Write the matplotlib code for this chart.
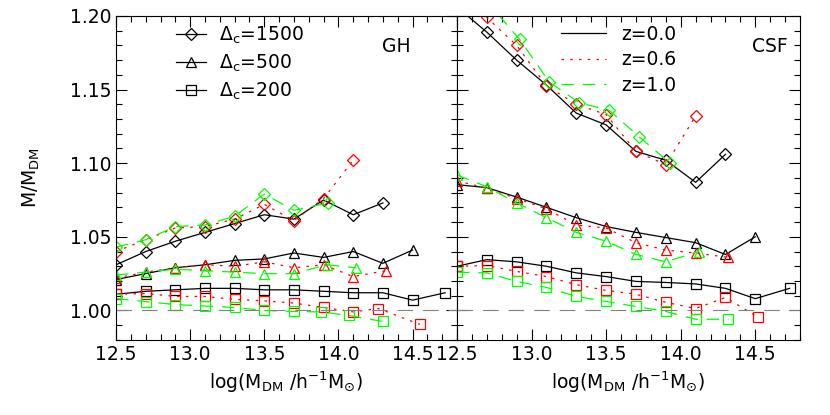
import numpy as np
import matplotlib
matplotlib.use('Agg')
import matplotlib.pyplot as plt
from matplotlib.ticker import MultipleLocator

# ---- GH panel (left) ----
gh_x_d0 = [12.5, 12.7, 12.9, 13.1, 13.3, 13.5, 13.7, 13.9, 14.1, 14.3]
gh_y_d0 = [1.031, 1.040, 1.047, 1.053, 1.059, 1.065, 1.062, 1.075, 1.065, 1.073]
gh_x_d6 = [12.5, 12.7, 12.9, 13.1, 13.3, 13.5, 13.7, 13.9, 14.1]
gh_y_d6 = [1.040, 1.048, 1.056, 1.057, 1.062, 1.072, 1.061, 1.076, 1.102]
gh_x_d10 = [12.5, 12.7, 12.9, 13.1, 13.3, 13.5, 13.7, 13.93]
gh_y_d10 = [1.043, 1.048, 1.057, 1.058, 1.064, 1.079, 1.068, 1.073]

gh_x_t0 = [12.5, 12.7, 12.9, 13.1, 13.3, 13.5, 13.7, 13.9, 14.1, 14.3, 14.5]
gh_y_t0 = [1.021, 1.025, 1.029, 1.031, 1.034, 1.035, 1.039, 1.036, 1.040, 1.032, 1.041]
gh_x_t6 = [12.5, 12.7, 12.9, 13.1, 13.3, 13.5, 13.7, 13.9, 14.1, 14.32]
gh_y_t6 = [1.022, 1.026, 1.029, 1.031, 1.030, 1.033, 1.029, 1.031, 1.023, 1.027]
gh_x_t10 = [12.5, 12.7, 12.9, 13.1, 13.3, 13.5, 13.7, 13.92, 14.12]
gh_y_t10 = [1.024, 1.026, 1.028, 1.027, 1.026, 1.025, 1.025, 1.031, 1.029]

gh_x_s0 = [12.5, 12.7, 12.9, 13.1, 13.3, 13.5, 13.7, 13.9, 14.1, 14.3, 14.5, 14.72]
gh_y_s0 = [1.011, 1.013, 1.014, 1.015, 1.015, 1.014, 1.014, 1.013, 1.012, 1.012, 1.007, 1.012]
gh_x_s6 = [12.5, 12.7, 12.9, 13.1, 13.3, 13.5, 13.7, 13.9, 14.1, 14.27, 14.55]
gh_y_s6 = [1.011, 1.0115, 1.0095, 1.0095, 1.0075, 1.0065, 1.005, 1.002, 0.999, 1.0013, 0.9905]
gh_x_s10 = [12.5, 12.7, 12.9, 13.1, 13.3, 13.5, 13.7, 13.88, 14.07, 14.3]
gh_y_s10 = [1.008, 1.006, 1.004, 1.003, 1.002, 1.000, 0.9993, 0.999, 0.9966, 0.9925]

# ---- CSF panel (right) ----
csf_x_d0 = [12.5, 12.7, 12.9, 13.1, 13.3, 13.5, 13.7, 13.9, 14.1, 14.3]
csf_y_d0 = [1.206, 1.189, 1.170, 1.153, 1.134, 1.126, 1.108, 1.102, 1.087, 1.106]
csf_x_d6 = [12.5, 12.7, 12.9, 13.1, 13.3, 13.5, 13.7, 13.9, 14.1]
csf_y_d6 = [1.218, 1.199, 1.180, 1.1525, 1.140, 1.133, 1.108, 1.099, 1.132]
csf_x_d10 = [12.5, 12.7, 12.92, 13.12, 13.32, 13.52, 13.72, 13.93]
csf_y_d10 = [1.235, 1.210, 1.184, 1.155, 1.141, 1.136, 1.118, 1.100]

csf_x_t0 = [12.5, 12.7, 12.9, 13.1, 13.3, 13.5, 13.7, 13.9, 14.1, 14.3, 14.5]
csf_y_t0 = [1.0854, 1.0834, 1.077, 1.070, 1.063, 1.057, 1.053, 1.0495, 1.046, 1.038, 1.050]
csf_x_t6 = [12.5, 12.7, 12.9, 13.1, 13.3, 13.5, 13.7, 13.9, 14.1, 14.32]
csf_y_t6 = [1.088, 1.083, 1.076, 1.069, 1.058, 1.056, 1.046, 1.041, 1.039, 1.036]
csf_x_t10 = [12.5, 12.7, 12.9, 13.1, 13.3, 13.5, 13.7, 13.9, 14.12]
csf_y_t10 = [1.092, 1.084, 1.073, 1.063, 1.053, 1.047, 1.038, 1.033, 1.040]

csf_x_s0 = [12.5, 12.7, 12.9, 13.1, 13.3, 13.5, 13.7, 13.9, 14.1, 14.3, 14.5, 14.73]
csf_y_s0 = [1.030, 1.0345, 1.033, 1.030, 1.0255, 1.023, 1.0197, 1.019, 1.018, 1.015, 1.008, 1.015]
csf_x_s6 = [12.5, 12.7, 12.9, 13.1, 13.3, 13.5, 13.7, 13.9, 14.1, 14.3, 14.52]
csf_y_s6 = [1.030, 1.0305, 1.0265, 1.023, 1.0175, 1.0136, 1.011, 1.0055, 1.0013, 1.0088, 0.9953]
csf_x_s10 = [12.5, 12.7, 12.9, 13.1, 13.3, 13.5, 13.7, 13.9, 14.1, 14.32]
csf_y_s10 = [1.026, 1.0255, 1.0197, 1.0156, 1.0095, 1.0061, 1.0027, 0.9993, 0.994, 0.994]

delta_labels = [r'$\Delta_{\rm c}$=1500', r'$\Delta_{\rm c}$=500', r'$\Delta_{\rm c}$=200']
z_labels = ['z=0.0', 'z=0.6', 'z=1.0']

plt.rcParams['font.family'] = 'DejaVu Sans'
plt.rcParams['mathtext.fontset'] = 'dejavusans'

fig = plt.figure(figsize=(8.3, 4.15), dpi=100)
ax1 = fig.add_axes([0.1398, 0.181, 0.4108, 0.7806])
ax2 = fig.add_axes([0.5506, 0.181, 0.4133, 0.7806])

styles = [('black', '-', (None, None)), ('red', ':', (2, 5)), ('#00ff00', '--', (10, 7))]
markers = ['D', '^', 's']
msizes = [6, 7.5, 7]


def draw(ax, groups):
    for mi, grp in enumerate(groups):
        for (x, y), (col, ls, dash) in zip(grp, styles):
            ln, = ax.plot(x, y, color=col, lw=0.9, marker=markers[mi], ms=msizes[mi],
                          mfc='none', mec=col, mew=0.9, ls=ls)
            if dash[0] is not None:
                ln.set_dashes(dash)
    ax.axhline(1.0, color='gray', lw=0.8, dashes=(14, 9))
    ax.set_xlim(12.5, 14.8)
    ax.set_ylim(0.98, 1.20)
    ax.xaxis.set_major_locator(MultipleLocator(0.5))
    ax.xaxis.set_minor_locator(MultipleLocator(0.1))
    ax.yaxis.set_major_locator(MultipleLocator(0.05))
    ax.yaxis.set_minor_locator(MultipleLocator(0.01))
    ax.tick_params(which='both', direction='in', top=True, right=True, labelsize=13.5)
    ax.tick_params(which='major', length=8, width=0.8)
    ax.tick_params(which='minor', length=4, width=0.8)
    ax.set_xticks([12.5, 13.0, 13.5, 14.0, 14.5])
    ax.set_xticklabels(['12.5', '13.0', '13.5', '14.0', '14.5'])
    ax.set_xlabel(r'log(M$_{\rm DM}$ /h$^{-1}$M$_{\odot}$)', fontsize=13.5)
    for s in ax.spines.values():
        s.set_linewidth(0.8)


draw(ax1, [[(gh_x_d0, gh_y_d0), (gh_x_d6, gh_y_d6), (gh_x_d10, gh_y_d10)],
           [(gh_x_t0, gh_y_t0), (gh_x_t6, gh_y_t6), (gh_x_t10, gh_y_t10)],
           [(gh_x_s0, gh_y_s0), (gh_x_s6, gh_y_s6), (gh_x_s10, gh_y_s10)]])
draw(ax2, [[(csf_x_d0, csf_y_d0), (csf_x_d6, csf_y_d6), (csf_x_d10, csf_y_d10)],
           [(csf_x_t0, csf_y_t0), (csf_x_t6, csf_y_t6), (csf_x_t10, csf_y_t10)],
           [(csf_x_s0, csf_y_s0), (csf_x_s6, csf_y_s6), (csf_x_s10, csf_y_s10)]])

ax1.set_yticks([1.00, 1.05, 1.10, 1.15, 1.20])
ax1.set_yticklabels(['1.00', '1.05', '1.10', '1.15', '1.20'])
ax1.set_ylabel(r'M/M$_{\rm DM}$', fontsize=13.5, labelpad=20)
ax2.tick_params(labelleft=False)

# legends
hl = []
for mi in range(3):
    h, = ax1.plot([], [], color='black', lw=0.9, marker=markers[mi], ms=msizes[mi],
                  mfc='none', mec='black', mew=0.9)
    hl.append(h)
ax1.legend(hl, delta_labels, loc='upper left', bbox_to_anchor=(0.126, 1.025), frameon=False,
           fontsize=13.5, handlelength=1.6, labelspacing=0.35, handletextpad=0.7)
ax1.text(0.78, 0.905, 'GH', transform=ax1.transAxes, fontsize=13.5, va='center')

hz = []
for col, ls, dash in styles:
    h, = ax2.plot([], [], color=col, lw=0.9, ls=ls)
    if dash[0] is not None:
        h.set_dashes(dash)
    hz.append(h)
ax2.legend(hz, z_labels, loc='upper left', bbox_to_anchor=(0.254, 1.025), frameon=False,
           fontsize=13.5, handlelength=2.4, labelspacing=0.35, handletextpad=0.8)
ax2.text(0.86, 0.905, 'CSF', transform=ax2.transAxes, fontsize=13.5, va='center')

fig.savefig('out.png', dpi=100)
